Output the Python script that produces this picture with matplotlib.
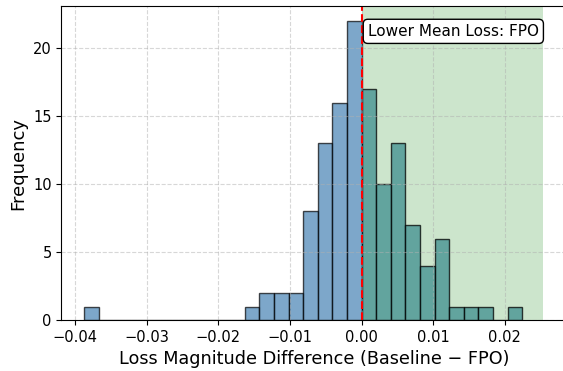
import matplotlib
matplotlib.use("Agg")
import matplotlib.pyplot as plt
import numpy as np

# histogram counts (30 equal bins, an edge sits at 0)
bin_width = 0.002037
neg_counts = [1, 0, 0, 0, 0, 0, 0, 0, 0, 0, 0, 1, 2, 2, 2, 8, 13, 16, 22]
pos_counts = [17, 10, 13, 7, 4, 6, 1, 1, 1, 0, 1]
span_right = 0.02534
box_text = "Lower Mean Loss: FPO"

neg_edges = -bin_width * np.arange(len(neg_counts), -1, -1)
pos_edges = bin_width * np.arange(0, len(pos_counts) + 1)
neg_centers = (neg_edges[:-1] + neg_edges[1:]) / 2
pos_centers = (pos_edges[:-1] + pos_edges[1:]) / 2

fig = plt.figure(figsize=(5.63, 3.71), dpi=100)
# right spine falls just outside the picture, as in the reference
ax = fig.add_axes([0.109, 0.137, 0.8965, 0.847])

ax.axvspan(0, span_right, color="green", alpha=0.2, lw=0)
ax.grid(True, linestyle="--", alpha=0.5)
ax.hist(neg_centers, bins=neg_edges, weights=neg_counts, color="steelblue",
        alpha=0.7, edgecolor="black", linewidth=1)
ax.hist(pos_centers, bins=pos_edges, weights=pos_counts, color="#3f8f8f",
        alpha=0.75, edgecolor="black", linewidth=1)
ax.axvline(0, color="red", linestyle="--", linewidth=1.5)

ax.text(0.946, 0.943, box_text, transform=ax.transAxes, ha="right", va="top",
        fontsize=11, bbox=dict(boxstyle="round", facecolor="white", edgecolor="black"))

ax.set_xlabel("Loss Magnitude Difference (Baseline \u2212 FPO)", fontsize=12.7)
ax.set_ylabel("Frequency", fontsize=13)
ax.tick_params(labelsize=10.5)

fig.savefig("out.png", dpi=100)
